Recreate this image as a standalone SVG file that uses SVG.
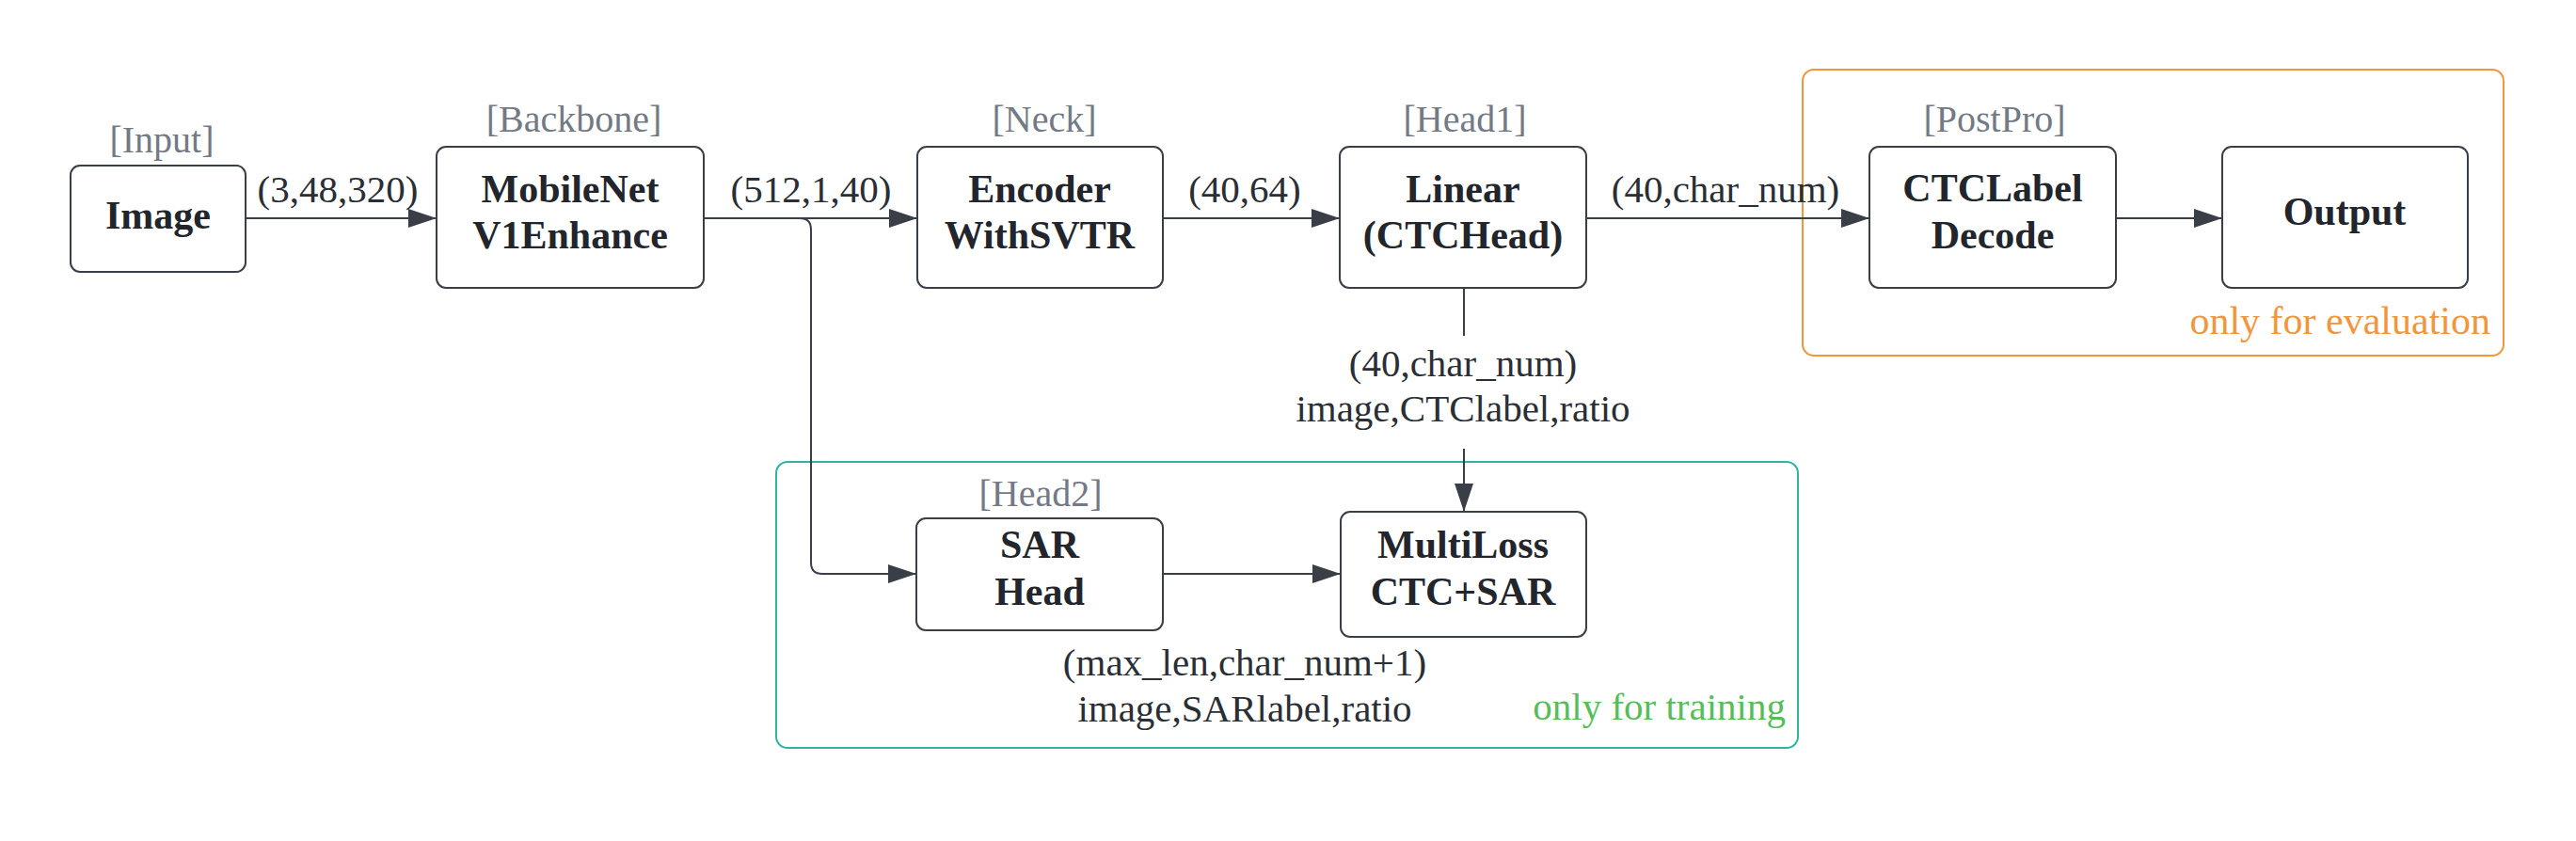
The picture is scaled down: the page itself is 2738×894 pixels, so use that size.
<svg xmlns="http://www.w3.org/2000/svg" width="2738" height="894" viewBox="0 0 2738 894">
<style>
.node{fill:#ffffff;stroke:#3a3f47;stroke-width:2}
.nt{font-family:"Liberation Serif","Times New Roman",serif;font-weight:bold;font-size:42px;fill:#22262c;text-anchor:middle}
.tag{font-family:"Liberation Serif","Times New Roman",serif;font-size:40px;fill:#737a85;text-anchor:middle}
.dim{font-family:"Liberation Serif","Times New Roman",serif;font-size:41px;fill:#2a2e35;text-anchor:middle}
.edge{fill:none;stroke:#3a3f47;stroke-width:2}
.arr{fill:none;stroke:#3a3f47;stroke-width:2;marker-end:url(#ah)}
</style>
<defs>
<marker id="ah" markerUnits="userSpaceOnUse" markerWidth="32" markerHeight="20" refX="30" refY="10" orient="auto">
<path d="M0,0 L30,10 L0,20 Z" fill="#3a3f47"/>
</marker>
</defs>
<rect width="2738" height="894" fill="#ffffff"/>

<g id="group-eval">
<rect x="1916" y="74" width="745" height="304" rx="12" fill="none" stroke="#f0963c" stroke-width="2"/>
<text x="2647" y="355" font-family="Liberation Serif, Times New Roman, serif" font-size="42" fill="#f0963c" text-anchor="end">only for evaluation</text>
</g>
<g id="group-train">
<rect x="825" y="491" width="1086" height="304" rx="12" fill="none" stroke="#2db5a0" stroke-width="2"/>
<text x="1898" y="765" font-family="Liberation Serif, Times New Roman, serif" font-size="41" fill="#56bd5a" text-anchor="end">only for training</text>
</g>

<g id="connectors">
<path class="arr" d="M261,232 L464,232"/>
<text class="dim" x="359" y="215">(3,48,320)</text>
<path class="arr" d="M748,232 L975,232"/>
<text class="dim" x="862" y="215">(512,1,40)</text>
<path class="arr" d="M850,232 Q862,232 862,244 L862,598 Q862,610 874,610 L974,610"/>
<path class="arr" d="M1236,232 L1424,232"/>
<text class="dim" x="1323" y="215">(40,64)</text>
<path class="arr" d="M1686,232 L1987,232"/>
<text class="dim" x="1834" y="215">(40,char_num)</text>
<path class="arr" d="M2249,232 L2362,232"/>
<path class="edge" d="M1556,306 L1556,357"/>
<text class="dim" x="1555" y="400">(40,char_num)</text>
<text class="dim" x="1555" y="448">image,CTClabel,ratio</text>
<path class="arr" d="M1556,477 L1556,544"/>
<path class="arr" d="M1236,610 L1425,610"/>
<text class="dim" x="1323" y="718">(max_len,char_num+1)</text>
<text class="dim" x="1323" y="767">image,SARlabel,ratio</text>
</g>

<g id="node-image">
<text class="tag" x="172" y="162">[Input]</text>
<rect class="node" x="75" y="176" width="186" height="113" rx="10"/>
<text class="nt" x="168" y="243">Image</text>
</g>
<g id="node-backbone">
<text class="tag" x="610" y="140">[Backbone]</text>
<rect class="node" x="464" y="156" width="284" height="150" rx="10"/>
<text class="nt" x="606" y="215">MobileNet</text>
<text class="nt" x="606" y="264">V1Enhance</text>
</g>
<g id="node-neck">
<text class="tag" x="1110" y="140">[Neck]</text>
<rect class="node" x="975" y="156" width="261" height="150" rx="10"/>
<text class="nt" x="1105" y="215">Encoder</text>
<text class="nt" x="1105" y="264">WithSVTR</text>
</g>
<g id="node-head1">
<text class="tag" x="1557" y="140">[Head1]</text>
<rect class="node" x="1424" y="156" width="262" height="150" rx="10"/>
<text class="nt" x="1555" y="215">Linear</text>
<text class="nt" x="1555" y="264">(CTCHead)</text>
</g>
<g id="node-postpro">
<text class="tag" x="2120" y="140">[PostPro]</text>
<rect class="node" x="1987" y="156" width="262" height="150" rx="10"/>
<text class="nt" x="2118" y="214">CTCLabel</text>
<text class="nt" x="2118" y="264">Decode</text>
</g>
<g id="node-output">
<rect class="node" x="2362" y="156" width="261" height="150" rx="10"/>
<text class="nt" x="2492" y="239">Output</text>
</g>
<g id="node-head2">
<text class="tag" x="1106" y="538">[Head2]</text>
<rect class="node" x="974" y="551" width="262" height="119" rx="10"/>
<text class="nt" x="1105" y="593">SAR</text>
<text class="nt" x="1105" y="643">Head</text>
</g>
<g id="node-loss">
<rect class="node" x="1425" y="544" width="261" height="133" rx="10"/>
<text class="nt" x="1555" y="593">MultiLoss</text>
<text class="nt" x="1555" y="643">CTC+SAR</text>
</g>
</svg>
